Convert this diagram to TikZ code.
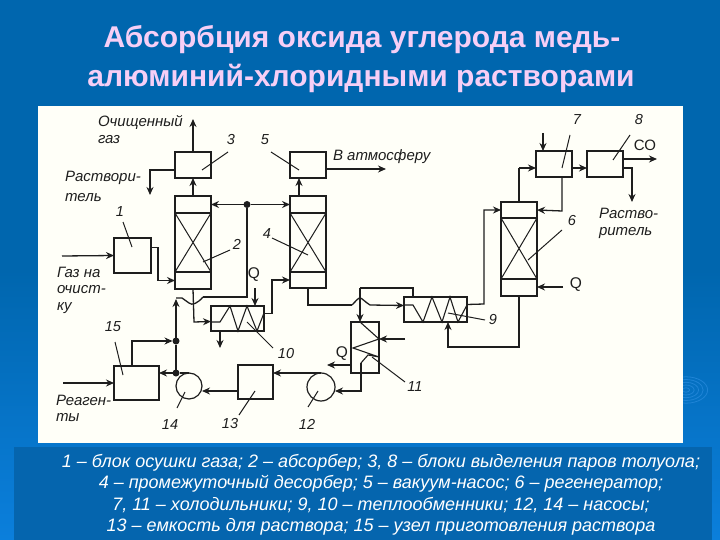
\documentclass[tikz,border=0pt]{standalone}
\usepackage{fontspec}
\setmainfont{Liberation Sans}
\usetikzlibrary{arrows.meta, positioning, calc, shadings}
\definecolor{bgtop}{HTML}{0066AE}
\definecolor{bgbot}{HTML}{0B7FDC}
\definecolor{legendbg}{HTML}{0565AE}
\definecolor{titlepink}{HTML}{F6CFF6}
\definecolor{paper}{HTML}{FFFFF8}
\definecolor{ink}{HTML}{1E1E1E}
\definecolor{ripple}{HTML}{1F84D6}
\begin{document}
\begin{tikzpicture}[
      x=1pt, y=-1pt, >={Stealth[length=8pt,width=7pt]},
      every node/.style={inner sep=0pt, outer sep=0pt},
      unit/.style={rectangle, draw=ink, line width=1.2pt, fill=paper},
      section/.style={unit, minimum width=36pt},
      packing/.style={section, minimum height=59pt, path picture={
        \draw[ink, line width=1pt] (path picture bounding box.north west) -- (path picture bounding box.south east)
          (path picture bounding box.north east) -- (path picture bounding box.south west);}},
      pump/.style={circle, draw=ink, line width=1.2pt, minimum size=26pt},
      dot/.style={circle, fill=ink, minimum size=7pt},
      line/.style={draw=ink, line width=1.3pt},
      heavy/.style={draw=ink, line width=1.7pt},
      leader/.style={draw=ink, line width=1pt},
      tag/.style={font=\fontsize{14.5}{16}\selectfont\itshape, text=ink},
      note/.style={font=\fontsize{15}{17}\selectfont\itshape, text=ink, anchor=west},
      legend/.style={font=\fontsize{18}{20}\selectfont\itshape, text=white}
    ]
      \useasboundingbox (0,0) rectangle (720,540);
      \shade[top color=bgtop, bottom color=bgbot, middle color=bgtop] (0,0) rectangle (720,540);
      \foreach \r in {4,9,14,19,24} {
        \draw[ripple, line width=.8pt] (686,390) ellipse ({\r*.9pt} and {\r*.55pt});
      }
      \fill[paper] (38,106) rectangle (683,443);
      \fill[legendbg] (14,447) rectangle (712,540);

      \node[font=\fontsize{30}{32}\selectfont\bfseries, text=titlepink] (title1) at (362,40) {Абсорбция оксида углерода медь-};
      \node[font=\fontsize{30}{32}\selectfont\bfseries, text=titlepink] (title2) at (361,78) {алюминий-хлоридными растворами};

      \node[unit, minimum width=37pt, minimum height=35pt] (bl1) at (132.5,255.5) {};
      \node[unit, minimum width=36pt, minimum height=26pt] (bl3) at (193,165) {};
      \node[unit, minimum width=36pt, minimum height=26pt] (bl5) at (308,165) {};
      \node[unit, minimum width=36pt, minimum height=26pt] (bl7) at (554,164) {};
      \node[unit, minimum width=36pt, minimum height=26pt] (bl8) at (605,164) {};
      \node[unit, minimum width=35pt, minimum height=34pt] (bl13) at (255.5,382) {};
      \node[unit, minimum width=45pt, minimum height=34pt] (bl15) at (136.5,383) {};

      \node[section, minimum height=17pt] (top2) at (193,204.5) {};
      \node[packing, below=0pt of top2] (pack2) {};
      \node[section, minimum height=17pt, below=0pt of pack2] (bot2) {};
      \node[section, minimum height=17pt] (top4) at (308,204.5) {};
      \node[packing, below=0pt of top4] (pack4) {};
      \node[section, minimum height=16pt, below=0pt of pack4] (bot4) {};
      \node[section, minimum height=16pt] (top6) at (519,210) {};
      \node[packing, minimum height=61pt, below=0pt of top6] (pack6) {};
      \node[section, minimum height=17pt, below=0pt of pack6] (bot6) {};

      \node[unit, minimum width=53pt, minimum height=25pt] (ex10) at (237.5,318.5) {};
      \node[unit, minimum width=63pt, minimum height=25pt] (ex9) at (435.5,309.5) {};
      \node[unit, minimum width=28pt, minimum height=51pt] (ex11) at (365,347.5) {};

      \node[pump] (pump14) at (189,386) {};
      \node[pump, minimum size=28pt] (pump12) at (321,387) {};
      \node[dot] (jn) at (247,204.5) {};
      \node[dot] (jn15) at (176,341) {};
      \node[dot] (jn14) at (176,373) {};

      \coordinate (clean) at (193,119);
      \coordinate (solv3) at (150,195);
      \coordinate (atm) at (386,169);
      \coordinate (gasin) at (62,256);
      \coordinate (reagin) at (63,383);
      \coordinate (q10) at (255,288);
      \coordinate (drain10) at (220,348);
      \coordinate (q11in) at (405,339);
      \coordinate (q11out) at (327,365);
      \coordinate (q6) at (563,287);
      \coordinate (in7) at (543,133);
      \coordinate (co) at (657,159);
      \coordinate (solv8) at (632,202);
      \coordinate (humpL) at (182,298);
      \coordinate (humpR) at (203,297);

      \draw[line, ->] (bl3.north) -- (clean);
      \draw[line, ->] (top2.north) -- (bl3.south);
      \draw[line, ->] (top4.north -| 299,0) -- (bl5.south -| 299,0);
      \draw[line, ->] ([yshift=-5pt]bl3.west) -| (solv3);
      \draw[line, ->] ([yshift=-4pt]bl5.east) -- (atm);
      \draw[line, ->] (gasin) -- (bl1.west);
      \draw[line, ->] ([yshift=8pt]bl1.east) -- ++(7,0) |- (bot2.west);
      \draw[line, ->] (jn) -- (top2.east);
      \draw[line, ->] (jn) -- (top4.west);
      \draw[line] (jn) -- (247,297) -- (humpR);
      \draw[line] (humpR) .. controls (198,303) and (192,306) .. (189,303) -- (humpL) -- (176,298);
      \draw[line, ->] (bot2.south) -- (194,322) -- ([yshift=-3pt]ex10.west);
      \draw[line, ->] (q10) -- (q10 |- ex10.north);
      \draw[line, ->] (drain10 |- ex10.south) -- (drain10);
      \draw[line, ->] ([yshift=5pt]ex10.east) -- ++(8,0) |- (bot4.west);
      \draw[line] (bot4.south) -- (308,305) -- (352,305);
      \draw[line] (352,305) .. controls (356,301) and (358,298) .. (360,298) .. controls (362,298) and (365,302) .. (370,305);
      \draw[line, ->] (370,305) -- ([yshift=4pt]ex9.west);
      \draw[line] (413,297) -- (413,288) -- (360,288);
      \draw[line, ->] (360,288) -- (360,322);
      \draw[line, ->] ([yshift=5pt]ex9.east) -- (484,304) |- (top6.west);
      \draw[line, ->] (q11in) -- (ex11.east |- q11in);
      \draw[line, ->] (ex11.west |- q11out) -- (q11out);
      \draw[line, ->] (361,363) -- (361,391) -- (pump12.east |- 0,391);
      \draw[line, ->] (bot6.south) -- (519,347) -- (448,347) -- (448,322);
      \draw[line, ->] (q6) -- (bot6.east |- q6);
      \draw[line] (top6.north) -- (519,168);
      \draw[line, ->] (519,168) -- ([yshift=-4pt]bl7.west);
      \draw[line, ->] (in7) -- (in7 |- bl7.north);
      \draw[line, ->] (bl7.south -| 562,0) -- (562,211) -- (top6.east);
      \draw[line, ->] ([yshift=-4pt]bl7.east) -- ([yshift=-4pt]bl8.west);
      \draw[line, ->] ([yshift=5pt]bl8.east) -- (co);
      \draw[line, ->] ([yshift=-4pt]bl8.east) -| (solv8);
      \draw[line, ->] (reagin) -- (bl15.west);
      \draw[line, ->] (bl15.north -| 132,0) |- (jn15);
      \draw[heavy, ->] (jn14) -- (jn15) -- (176,299);
      \draw[heavy, ->] (jn14) -- (bl15.east |- jn14);
      \draw[line] (pump14.north) -- (jn14);
      \draw[line, ->] (bl13.west |- 0,391) -- (pump14.east |- 0,391);
      \draw[heavy, ->] (pump12.north) -- (bl13.east |- pump12.north);

      \draw[ink, line width=1.1pt] (211,322) -- (220,322) -- (230,306) -- (238,331) -- (247,306) -- (257,331) -- (264,313);
      \draw[ink, line width=1.1pt] (404,305) -- (413,305) -- (423,322) -- (432,297) -- (442,322) -- (450,297) -- (458,322) -- (467,305);
      \draw[ink, line width=1.1pt] (360,322) -- (379,339) -- (353,348) -- (379,357) -- (368,355) -- (361,363);

      \draw[leader] (123,222) -- (132,247);
      \draw[leader] (230,250) -- (203,262);
      \draw[leader] (228,152) -- (202,170);
      \draw[leader] (271,152) -- (299,170);
      \draw[leader] (272,238) -- (308,255);
      \draw[leader] (562,230) -- (528,260);
      \draw[leader] (570,135) -- (562,168);
      \draw[leader] (630,135) -- (613,160);
      \draw[leader] (448,313) -- (485,320);
      \draw[leader] (247,322) -- (273,348);
      \draw[leader] (372,357) -- (405,382);
      \draw[leader] (318,391) -- (308,407);
      \draw[leader] (255,391) -- (239,415);
      \draw[leader] (185,392) -- (177,408);
      \draw[leader] (115,342) -- (123,375);

      \node[tag] (n1) at (120,212) {1};
      \node[tag] (n2) at (237,244) {2};
      \node[tag] (n3) at (231,140) {3};
      \node[tag] (n4) at (267,234) {4};
      \node[tag] (n5) at (265,140) {5};
      \node[tag] (n6) at (572,221) {6};
      \node[tag] (n7) at (577,120) {7};
      \node[tag] (n8) at (639,120) {8};
      \node[tag] (n9) at (493,320) {9};
      \node[tag] (n10) at (286,354) {10};
      \node[tag] (n11) at (415,387) {11};
      \node[tag] (n12) at (307,424) {12};
      \node[tag] (n13) at (230,424) {13};
      \node[tag] (n14) at (170,425) {14};
      \node[tag] (n15) at (113,327) {15};

      \node[note] (t1) at (98,122) {Очищенный};
      \node[note] (t2) at (98,140) {газ};
      \node[note] (t3) at (65,178) {Раствори-};
      \node[note] (t4) at (65,198) {тель};
      \node[note] (t5) at (57,272) {Газ на};
      \node[note] (t6) at (57,290) {очист-};
      \node[note] (t7) at (57,308) {ку};
      \node[note] (t8) at (56,400) {Реаген-};
      \node[note] (t9) at (56,418) {ты};
      \node[note] (t10) at (333,157) {В атмосферу};
      \node[note] (t11) at (599,213) {Раство-};
      \node[note] (t12) at (599,233) {ритель};
      \node[font=\fontsize{15}{17}\selectfont, text=ink] (t13) at (645,145) {СО};
      \node[font=\fontsize{15.5}{17}\selectfont, text=ink] (q1) at (254,275) {Q};
      \node[font=\fontsize{15.5}{17}\selectfont, text=ink] (q2) at (342,354) {Q};
      \node[font=\fontsize{15.5}{17}\selectfont, text=ink] (q3) at (576,285) {Q};

      \node[legend] (leg1) at (381,463) {1 – блок осушки газа; 2 – абсорбер; 3, 8 – блоки выделения паров толуола;};
      \node[legend] (leg2) at (381,484) {4 – промежуточный десорбер; 5 – вакуум-насос; 6 – регенератор;};
      \node[legend] (leg3) at (381,505) {7, 11 – холодильники; 9, 10 – теплообменники; 12, 14 – насосы;};
      \node[legend] (leg4) at (381,527) {13 – емкость для раствора; 15 – узел приготовления раствора};
    \end{tikzpicture}
\end{document}
